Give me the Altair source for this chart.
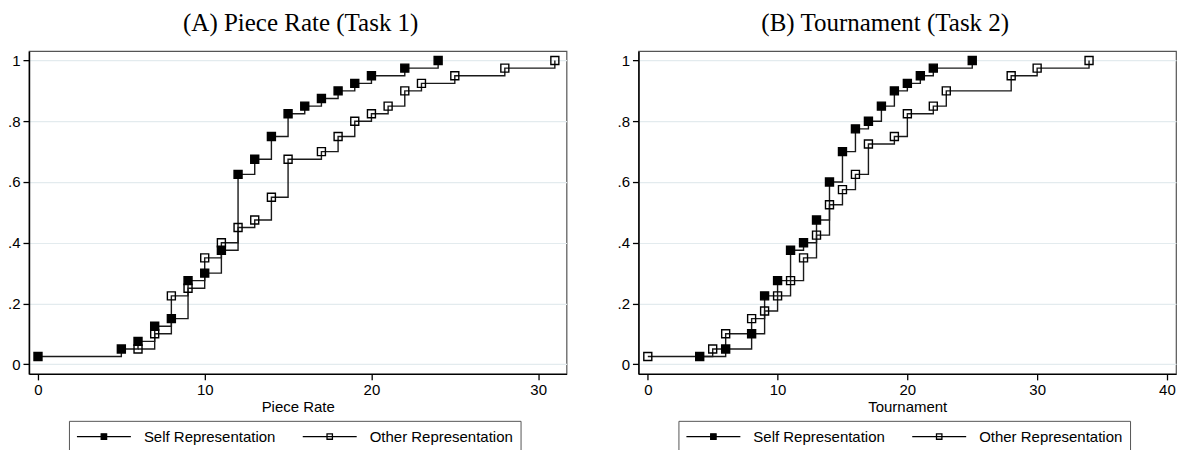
import altair as alt
import pandas as pd

SELF = "Self Representation"
OTHER = "Other Representation"

# (A) Piece Rate (Task 1)
pr_self_x = [0, 5, 6, 7, 8, 9, 10, 11, 12, 13, 14, 15, 16, 17, 18, 19, 20, 22, 24]
pr_self_y = [0.025, 0.05, 0.075, 0.125, 0.15, 0.275, 0.3, 0.375, 0.625, 0.675, 0.75,
             0.825, 0.85, 0.875, 0.9, 0.925, 0.95, 0.975, 1.0]
pr_other_x = [6, 7, 8, 9, 10, 11, 12, 13, 14, 15, 17, 18, 19, 20, 21, 22, 23, 25, 28, 31]
pr_other_y = [0.05, 0.1, 0.225, 0.25, 0.35, 0.4, 0.45, 0.475, 0.55, 0.675, 0.7, 0.75,
              0.8, 0.825, 0.85, 0.9, 0.925, 0.95, 0.975, 1.0]

# (B) Tournament (Task 2)
tn_self_x = [4, 6, 8, 9, 10, 11, 12, 13, 14, 15, 16, 17, 18, 19, 20, 21, 22, 25]
tn_self_y = [0.025, 0.05, 0.1, 0.225, 0.275, 0.375, 0.4, 0.475, 0.6, 0.7, 0.775, 0.8,
             0.85, 0.9, 0.925, 0.95, 0.975, 1.0]
tn_other_x = [0, 5, 6, 8, 9, 10, 11, 12, 13, 14, 15, 16, 17, 19, 20, 22, 23, 28, 30, 34]
tn_other_y = [0.025, 0.05, 0.1, 0.15, 0.175, 0.225, 0.275, 0.35, 0.425, 0.525, 0.575,
              0.625, 0.725, 0.75, 0.825, 0.85, 0.9, 0.95, 0.975, 1.0]

y_ticks = [0, 0.2, 0.4, 0.6, 0.8, 1.0]
pr_ticks = [0, 10, 20, 30]
tn_ticks = [0, 10, 20, 30, 40]

LEG_PATH = "M-3.6,0H3.6M-0.36,-0.36H0.36V0.36H-0.36Z"


def make_df(sx, sy, ox, oy):
    return pd.DataFrame({
        "x": sx + ox,
        "y": sy + oy,
        "series": [SELF] * len(sx) + [OTHER] * len(ox),
    })


def panel(df, title, xtitle, xdom, xvals, dx):
    x = alt.X("x:Q", scale=alt.Scale(domain=xdom, nice=False, zero=False),
              axis=alt.Axis(values=xvals, title=xtitle, grid=False, format="d",
                            titlePadding=2))
    y = alt.Y("y:Q", scale=alt.Scale(domain=[-0.032, 1.031], nice=False, zero=False),
              axis=alt.Axis(values=y_ticks, title=None, grid=True,
                            labelExpr="datum.value == 0 ? '0' : datum.value == 1 ? '1' : '.' + round(datum.value * 10)"))
    lines = alt.Chart(df).mark_line(
        interpolate="step-after", color="#1a1a1a", strokeWidth=1.4
    ).encode(x=x, y=y, detail="series:N")
    pts = alt.Chart(df).mark_square(
        size=64, stroke="black", strokeWidth=1.4, opacity=1
    ).encode(
        x=x, y=y,
        fill=alt.Fill("series:N",
                      scale=alt.Scale(domain=[SELF, OTHER], range=["black", "transparent"]),
                      legend=alt.Legend(
                          orient="none", legendX=40, legendY=370, direction="horizontal",
                          title=None, symbolType=LEG_PATH, symbolSize=225,
                          symbolOffset=19.5, labelOffset=31.5,
                          symbolStrokeColor="black", symbolStrokeWidth=1.3,
                          labelFont="Liberation Sans", labelFontSize=15, labelColor="black",
                          labelLimit=300, columnPadding=24, padding=7,
                          strokeColor="#555", fillColor="white", symbolOpacity=1,
                      )),
    )
    return alt.layer(lines, pts).properties(
        width=538, height=323,
        title=alt.TitleParams(title, font="Liberation Serif", fontSize=25,
                              fontWeight="normal", color="black", anchor="middle",
                              frame="group", offset=15, dx=dx),
    )


left = panel(make_df(pr_self_x, pr_self_y, pr_other_x, pr_other_y),
             "(A) Piece Rate (Task 1)", "Piece Rate", [-0.54, 31.7], pr_ticks, 3)
right = panel(make_df(tn_self_x, tn_self_y, tn_other_x, tn_other_y),
              "(B) Tournament (Task 2)", "Tournament", [-0.72, 40.7], tn_ticks, -22)

chart = alt.hconcat(left, right, spacing=48).resolve_scale(
    fill="independent", x="independent", y="independent"
).resolve_legend(fill="independent").properties(
    padding={"left": 6, "top": 10, "right": 0, "bottom": 0}
).configure_view(
    stroke="#555", strokeWidth=1.2
).configure_axis(
    domainColor="black", domainWidth=1.5, tickColor="black", tickWidth=1.3, tickSize=6,
    labelFont="Liberation Sans", labelFontSize=15, labelColor="black", labelPadding=3,
    titleFont="Liberation Sans", titleFontSize=15, titleFontWeight="normal",
    titleColor="black", gridColor="#E3EBEE", gridWidth=1.2,
)

chart.save("out.html", embed_options={"renderer": "svg", "actions": False})
